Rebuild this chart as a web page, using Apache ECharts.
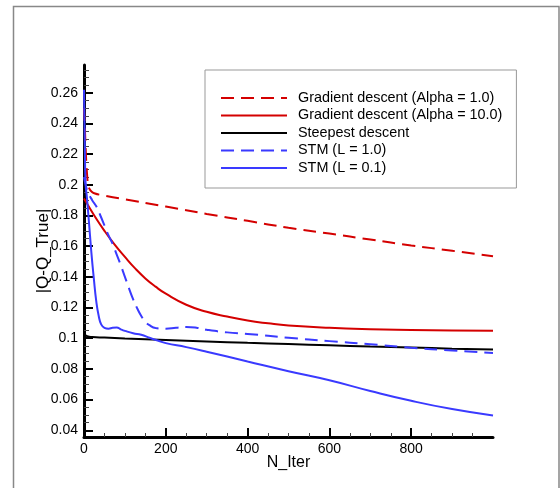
<!DOCTYPE html>
<html>
<head>
<meta charset="utf-8">
<script src="https://cdn.jsdelivr.net/npm/echarts@6/dist/echarts.min.js"></script>
<style>
  html, body {margin: 0; padding: 0; background: #fff;}
  #chart {width: 560px; height: 488px;}
</style>
</head>
<body>
<div id="chart"></div>
<script>
	// tick positions
	var xMajor = [0, 200, 400, 600, 800];
	var xMinor = [50, 100, 150, 250, 300, 350, 450, 500, 550, 650, 700, 750, 850, 900, 950];
	var yMajor = [0.04, 0.06, 0.08, 0.1, 0.12, 0.14, 0.16, 0.18, 0.2, 0.22, 0.24, 0.26];
	var yMinor = [0.045, 0.05, 0.055, 0.065, 0.07, 0.075, 0.085, 0.09, 0.095, 0.105, 0.11, 0.115,
		0.125, 0.13, 0.135, 0.145, 0.15, 0.155, 0.165, 0.17, 0.175, 0.185, 0.19, 0.195,
		0.205, 0.21, 0.215, 0.225, 0.23, 0.235, 0.245, 0.25, 0.255, 0.265, 0.27, 0.275];

	// Gradient descent (Alpha = 1.0)
	var gd1N = [0, 2, 4, 6, 8, 10, 13, 17, 25, 50, 100, 200, 300, 400, 500, 600, 700, 800, 900, 1000];
	var gd1Val = [0.25, 0.238, 0.224, 0.213, 0.205, 0.2, 0.1975, 0.196, 0.1945, 0.193, 0.1905, 0.1858,
		0.181, 0.1765, 0.172, 0.1682, 0.1643, 0.1605, 0.157, 0.1535];

	// Gradient descent (Alpha = 10.0)
	var gd10N = [0, 25, 50, 75, 100, 125, 150, 175, 200, 250, 300, 350, 400, 450, 500, 600, 700, 800, 900, 1000];
	var gd10Val = [0.191, 0.18, 0.17, 0.161, 0.153, 0.1455, 0.139, 0.1336, 0.129, 0.1218, 0.1172,
		0.1141, 0.1115, 0.1097, 0.1083, 0.1068, 0.1059, 0.1054, 0.105, 0.1048];

	// Steepest descent
	var sdN = [0, 3, 8, 20, 50, 100, 200, 300, 400, 500, 600, 700, 800, 900, 1000];
	var sdVal = [0.1035, 0.1022, 0.1013, 0.1008, 0.1004, 0.0998, 0.0988, 0.0979, 0.097, 0.0962,
		0.0954, 0.0946, 0.0939, 0.0932, 0.0926];

	// STM (L = 1.0)
	var stm1N = [0, 4, 10, 20, 30, 40, 50, 60, 70, 80, 90, 100, 110, 120, 130, 140, 150, 160, 175,
		200, 225, 250, 275, 300, 350, 400, 500, 600, 700, 800, 900, 1000];
	var stm1Val = [0.205, 0.2, 0.195, 0.19, 0.186, 0.18, 0.1735, 0.167, 0.1615, 0.1545, 0.1475, 0.14,
		0.1325, 0.1255, 0.1195, 0.1145, 0.1108, 0.1085, 0.1066, 0.1062, 0.1068, 0.1073, 0.1068,
		0.1055, 0.1038, 0.1028, 0.1003, 0.0981, 0.0961, 0.0938, 0.092, 0.0903];

	// STM (L = 0.1)
	var stm01N = [0, 2, 4, 7, 12, 18, 24, 30, 36, 42, 50, 60, 70, 80, 90, 100, 120, 140, 160, 180,
		200, 250, 300, 400, 500, 600, 700, 800, 900, 1000];
	var stm01Val = [0.262, 0.225, 0.2, 0.192, 0.176, 0.156, 0.139, 0.124, 0.1145, 0.109, 0.1068,
		0.1062, 0.1068, 0.107, 0.1058, 0.1048, 0.1032, 0.1022, 0.1003, 0.0985, 0.0968, 0.0942,
		0.0912, 0.0848, 0.0785, 0.0726, 0.0656, 0.0592, 0.0538, 0.0496];

	var RED = '#d40000';
	var BLUE = '#3a3aff';
	var FONT = 'Liberation Sans, Arial, sans-serif';

	function pairs(xs, ys) {
		var out = [];
		for (var i = 0; i < xs.length; i++) {
			out.push([xs[i], ys[i]]);
		}
		return out;
	}

	function lineSeries(name, xs, ys, color, dashed) {
		return {
			name : name,
			type : 'line',
			xAxisIndex : 0,
			yAxisIndex : 0,
			symbol : 'none',
			smooth : 0.5,
			data : pairs(xs, ys),
			lineStyle : {
				color : color,
				width : 2,
				type : dashed ? [13, 7] : 'solid'
			},
			itemStyle : { color : color }
		};
	}

	var myChart = echarts.init(document.getElementById('chart'), null, { renderer : 'canvas' });
	var xMin = 0, xMax = 1000, yMin = 0.0356, yMax = 0.2781;

	var option = {
		animation : false,
		backgroundColor : '#fff',
		textStyle : { fontFamily : FONT },
		graphic : [ {
			type : 'rect',
			shape : { x : 13.5, y : 6.5, width : 545.5, height : 520 },
			style : { fill : 'none', stroke : '#888', lineWidth : 1.5 },
			z : -1
		} ],
		grid : { left : 84, top : 65, width : 409, height : 372 },
		legend : {
			orient : 'vertical',
			left : 205,
			top : 70,
			padding : [ 21, 14, 13, 15 ],
			itemWidth : 66,
			itemHeight : 14,
			itemGap : 3.5,
			borderColor : '#999',
			borderWidth : 1,
			backgroundColor : '#fff',
			itemStyle : { opacity : 0 },
			textStyle : { fontSize : 14.4, color : '#000', fontFamily : FONT, padding : [ 0, 0, 0, 6 ] },
			data : [ 'Gradient descent (Alpha = 1.0)', 'Gradient descent (Alpha = 10.0)',
				'Steepest descent', 'STM (L = 1.0)', 'STM (L = 0.1)' ]
		},
		xAxis : [ {
			type : 'value',
			min : xMin,
			max : xMax,
			position : 'bottom',
			splitLine : { show : false },
			axisLine : { show : true, lineStyle : { color : '#000', width : 3 } },
			axisTick : { show : true, inside : true, length : 9, customValues : xMajor,
				lineStyle : { color : '#000', width : 2 } },
			axisLabel : { customValues : xMajor, fontSize : 14, color : '#000', margin : 5, fontFamily : FONT },
			name : 'N_Iter',
			nameLocation : 'middle',
			nameGap : 18,
			nameMoveOverlap : false,
			nameTextStyle : { fontSize : 16, color : '#000', fontFamily : FONT }
		}, {
			type : 'value',
			min : xMin,
			max : xMax,
			position : 'bottom',
			splitLine : { show : false },
			axisLine : { show : false },
			axisTick : { show : true, inside : true, length : 4, customValues : xMinor,
				lineStyle : { color : '#444', width : 1 } },
			axisLabel : { show : false }
		} ],
		yAxis : [ {
			type : 'value',
			min : yMin,
			max : yMax,
			position : 'left',
			splitLine : { show : false },
			axisLine : { show : true, lineStyle : { color : '#000', width : 3 } },
			axisTick : { show : true, inside : true, length : 9, customValues : yMajor,
				lineStyle : { color : '#000', width : 2 } },
			axisLabel : { customValues : yMajor, fontSize : 14, color : '#000', margin : 6, fontFamily : FONT },
			name : '|Q-Q_True|',
			nameLocation : 'middle',
			nameRotate : 90,
			nameGap : 32,
			nameMoveOverlap : false,
			nameTextStyle : { fontSize : 17, color : '#000', fontFamily : FONT }
		}, {
			type : 'value',
			min : yMin,
			max : yMax,
			position : 'left',
			splitLine : { show : false },
			axisLine : { show : false },
			axisTick : { show : true, inside : true, length : 5, customValues : yMinor,
				lineStyle : { color : '#444', width : 1 } },
			axisLabel : { show : false }
		} ],
		series : [
			lineSeries('Gradient descent (Alpha = 1.0)', gd1N, gd1Val, RED, true),
			lineSeries('Gradient descent (Alpha = 10.0)', gd10N, gd10Val, RED, false),
			lineSeries('Steepest descent', sdN, sdVal, '#000', false),
			lineSeries('STM (L = 1.0)', stm1N, stm1Val, BLUE, true),
			lineSeries('STM (L = 0.1)', stm01N, stm01Val, BLUE, false)
		]
	};
	myChart.setOption(option);
</script>
</body>
</html>
